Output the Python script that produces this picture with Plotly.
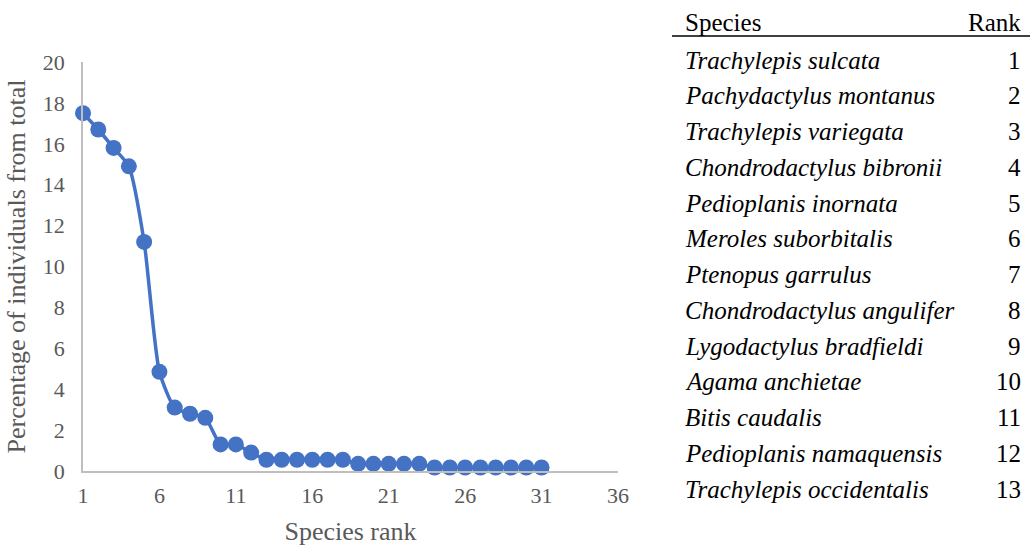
import plotly.graph_objects as go

ranks = list(range(1, 32))
percent = [17.5, 16.7, 15.8, 14.9, 11.2, 4.85, 3.1, 2.8, 2.6, 1.3, 1.3, 0.9,
           0.55, 0.55, 0.55, 0.55, 0.55, 0.55,
           0.35, 0.35, 0.35, 0.35, 0.35,
           0.17, 0.17, 0.17, 0.17, 0.17, 0.17, 0.17, 0.17]

species = ["Trachylepis sulcata", "Pachydactylus montanus", "Trachylepis variegata",
           "Chondrodactylus bibronii", "Pedioplanis inornata", "Meroles suborbitalis",
           "Ptenopus garrulus", "Chondrodactylus angulifer", "Lygodactylus bradfieldi",
           "Agama anchietae", "Bitis caudalis", "Pedioplanis namaquensis",
           "Trachylepis occidentalis"]
species_rank = list(range(1, 14))

x_ticks = [1, 6, 11, 16, 21, 26, 31, 36]
y_ticks = [0, 2, 4, 6, 8, 10, 12, 14, 16, 18, 20]

SERIF = "Liberation Serif, Times New Roman, serif"
BLUE = "#4472C4"
GRAY = "#595959"

L, R, T, B = 83, 618, 62, 471
W, H = 1030, 546

def px_x(px):
    return (px - L) / (R - L)

def px_y(py):
    return (B - py) / (B - T)

fig = go.Figure()
fig.add_trace(go.Scatter(
    x=ranks, y=percent, mode="lines+markers",
    line=dict(color=BLUE, width=3.5, shape="spline", smoothing=0.6),
    marker=dict(color=BLUE, size=16),
    showlegend=False, cliponaxis=False,
))

TF = 25
annotations = []
annotations.append(dict(x=px_x(683), y=px_y(22), xref="paper", yref="paper",
                        text="Species", showarrow=False, xanchor="left", yanchor="middle",
                        font=dict(family=SERIF, size=TF, color="black")))
annotations.append(dict(x=px_x(1023), y=px_y(22), xref="paper", yref="paper",
                        text="Rank", showarrow=False, xanchor="right", yanchor="middle",
                        font=dict(family=SERIF, size=TF, color="black")))
row0, step = 60, 35.75
for i, (sp, rk) in enumerate(zip(species, species_rank)):
    yy = px_y(row0 + i * step)
    annotations.append(dict(x=px_x(683), y=yy, xref="paper", yref="paper",
                            text="<i>" + sp + "</i>", showarrow=False,
                            xanchor="left", yanchor="middle",
                            font=dict(family=SERIF, size=TF, color="black")))
    annotations.append(dict(x=px_x(1023), y=yy, xref="paper", yref="paper",
                            text=str(rk), showarrow=False,
                            xanchor="right", yanchor="middle",
                            font=dict(family=SERIF, size=TF, color="black")))

shapes = [dict(type="line", xref="paper", yref="paper",
               x0=px_x(672), x1=px_x(1030), y0=px_y(36), y1=px_y(36),
               line=dict(color="black", width=1.5))]

fig.update_layout(
    width=W, height=H,
    margin=dict(l=L, r=W - R, t=T, b=H - B),
    paper_bgcolor="white", plot_bgcolor="white",
    annotations=annotations, shapes=shapes,
    xaxis=dict(range=[1, 36], tickvals=x_ticks, showgrid=False, zeroline=False,
               showline=True, linecolor="#BFBFBF", linewidth=1.5, automargin=False,
               ticks="", ticklabelstandoff=4,
               tickfont=dict(family=SERIF, size=22, color=GRAY),
               title=dict(text="Species rank", font=dict(family=SERIF, size=26, color=GRAY),
                          standoff=22)),
    yaxis=dict(range=[0, 20], tickvals=y_ticks, showgrid=False, zeroline=False,
               showline=True, linecolor="#BFBFBF", linewidth=1.5, automargin=False,
               ticks="", ticklabelstandoff=12,
               tickfont=dict(family=SERIF, size=22, color=GRAY),
               title=dict(text="Percentage of individuals from total",
                          font=dict(family=SERIF, size=26, color=GRAY), standoff=10)),
)

fig.write_html("out.html", config={"displayModeBar": False},
               post_script="document.body.style.margin='0';")
